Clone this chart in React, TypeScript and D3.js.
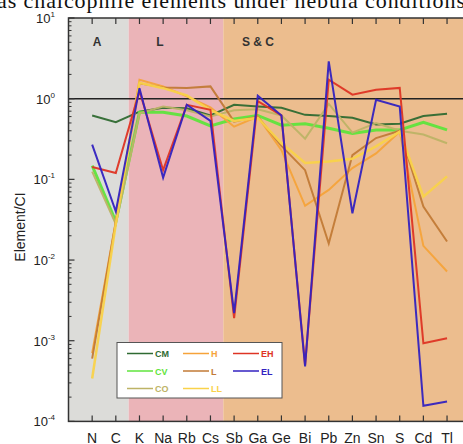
import React, { useEffect, useRef } from "react";
import * as d3 from "d3";

const elements = ["N", "C", "K", "Na", "Rb", "Cs", "Sb", "Ga", "Ge", "Bi", "Pb", "Zn", "Sn", "S", "Cd", "Tl"];

// Element/CI ratios
const CM = [0.62, 0.51, 0.69, 0.77, 0.76, 0.62, 0.84, 0.8, 0.77, 0.63, 0.61, 0.58, 0.48, 0.49, 0.61, 0.65];
const CV = [0.148, 0.03, 0.68, 0.68, 0.61, 0.46, 0.56, 0.62, 0.47, 0.49, 0.43, 0.37, 0.41, 0.41, 0.51, 0.41];
const CO = [0.125, 0.028, 0.66, 0.8, 0.72, 0.6, 0.72, 0.74, 0.62, 0.32, 0.86, 0.38, 0.5, 0.4, 0.36, 0.28];
const H = [0.0007, 0.03, 1.72, 1.42, 1.07, 0.78, 0.45, 0.6, 0.23, 0.047, 0.074, 0.138, 0.21, 0.39, 0.015, 0.0072];
const L = [0.0006, 0.03, 1.55, 1.38, 1.36, 1.42, 0.52, 0.6, 0.26, 0.13, 0.016, 0.2, 0.325, 0.4, 0.046, 0.017];
const LL = [0.00034, 0.028, 1.57, 1.35, 1.1, 0.72, 0.53, 0.58, 0.28, 0.16, 0.167, 0.18, 0.256, 0.39, 0.061, 0.109];
const EH = [0.142, 0.12, 1.25, 0.13, 0.84, 0.73, 0.0019, 0.93, 0.62, 0.0005, 1.72, 1.12, 1.29, 1.36, 0.00093, 0.00107];
const EL = [0.27, 0.04, 1.35, 0.105, 0.84, 0.53, 0.0022, 1.09, 0.62, 0.00048, 2.9, 0.038, 0.97, 0.8, 0.000156, 0.000176];

const seriesNames = ["CM", "CV", "CO", "H", "L", "LL", "EH", "EL"];
const seriesValues = [CM, CV, CO, H, L, LL, EH, EL];
const seriesColors = ["#2f6a32", "#5fe43c", "#bdb366", "#f6a33a", "#c27a36", "#f9d24a", "#de3424", "#3322c0"];
const seriesWidths = [2, 3, 2, 2, 2, 2.5, 2, 2];

// legend columns
const legendColumns = [["CM", "CV", "CO"], ["H", "L", "LL"], ["EH", "EL"]];

const regions = [
  { label: "A", from: "N", to: "C", color: "#dcdcd9" },
  { label: "L", from: "K", to: "Cs", color: "#ebb4b8" },
  { label: "S & C", from: "Sb", to: "Tl", color: "#ecbd8e" },
];

const yTicks = [1e-4, 1e-3, 1e-2, 1e-1, 1, 10];

export default function App() {
  const svgRef = useRef(null);
  const width = 463;
  const height = 444;
  const plot = { left: 68.5, right: 470.7, top: 18, bottom: 421.4 };

  useEffect(() => {
    const svg = d3.select(svgRef.current);
    svg.selectAll("*").remove();

    const x = d3.scalePoint().domain(elements).range([plot.left, plot.right]).padding(1);
    const y = d3.scaleLog().domain([1e-4, 10]).range([plot.bottom, plot.top]);
    const step = x.step();

    // title fragment (cut at the top)
    svg
      .append("text")
      .attr("x", -3)
      .attr("y", 8)
      .attr("font-family", "Liberation Serif, Times New Roman, serif")
      .attr("font-size", 22)
      .attr("textLength", 468)
      .attr("fill", "#111")
      .text("as chalcophile elements under nebula conditions");

    // background bands
    const g = svg.append("g");
    regions.forEach((r, i) => {
      const x0 = i === 0 ? plot.left : x(r.from) - step / 2 + 1;
      const x1 = i === regions.length - 1 ? plot.right : x(r.to) + step / 2 + 1;
      g.append("rect")
        .attr("x", x0)
        .attr("y", plot.top)
        .attr("width", x1 - x0)
        .attr("height", plot.bottom - plot.top)
        .attr("fill", r.color);
    });

    // region labels
    const labelX = [97, 160, 258];
    regions.forEach((r, i) => {
      g.append("text")
        .attr("x", labelX[i])
        .attr("y", 46)
        .attr("text-anchor", "middle")
        .attr("font-family", "Liberation Sans, Arial, sans-serif")
        .attr("font-weight", "bold")
        .attr("font-size", 12)
        .attr("fill", "#333")
        .text(r.label);
    });

    // reference line at 1
    g.append("line")
      .attr("x1", plot.left)
      .attr("x2", plot.right)
      .attr("y1", y(1))
      .attr("y2", y(1))
      .attr("stroke", "#222")
      .attr("stroke-width", 1.5);

    // series
    const line = d3
      .line<number>()
      .x((_, i) => x(elements[i]))
      .y((d) => y(d));

    seriesValues.forEach((vals, i) => {
      g.append("path")
        .attr("d", line(vals))
        .attr("fill", "none")
        .attr("stroke", seriesColors[i])
        .attr("stroke-width", seriesWidths[i])
        .attr("stroke-linejoin", "miter")
        .attr("opacity", 0.95);
    });

    // frame
    g.append("rect")
      .attr("x", plot.left)
      .attr("y", plot.top)
      .attr("width", plot.right - plot.left)
      .attr("height", plot.bottom - plot.top)
      .attr("fill", "none")
      .attr("stroke", "#333")
      .attr("stroke-width", 1.5);

    // x ticks top and bottom, pointing inward
    elements.forEach((e) => {
      g.append("line")
        .attr("x1", x(e)).attr("x2", x(e))
        .attr("y1", plot.top).attr("y2", plot.top + 6)
        .attr("stroke", "#333").attr("stroke-width", 1.2);
      g.append("line")
        .attr("x1", x(e)).attr("x2", x(e))
        .attr("y1", plot.bottom).attr("y2", plot.bottom - 6)
        .attr("stroke", "#333").attr("stroke-width", 1.2);
      svg
        .append("text")
        .attr("x", x(e))
        .attr("y", 443)
        .attr("text-anchor", "middle")
        .attr("font-family", "Liberation Sans, Arial, sans-serif")
        .attr("font-size", 14)
        .attr("fill", "#222")
        .text(e);
    });

    // y ticks, major and minor
    const minor = y.ticks().filter((t) => !yTicks.includes(t));
    minor.forEach((t) => {
      g.append("line")
        .attr("x1", plot.left).attr("x2", plot.left + 3)
        .attr("y1", y(t)).attr("y2", y(t))
        .attr("stroke", "#333").attr("stroke-width", 1);
    });
    yTicks.forEach((t) => {
      g.append("line")
        .attr("x1", plot.left).attr("x2", plot.left + 6)
        .attr("y1", y(t)).attr("y2", y(t))
        .attr("stroke", "#333").attr("stroke-width", 1.2);
      const lab = svg
        .append("text")
        .attr("x", 55)
        .attr("y", y(t) + 5)
        .attr("text-anchor", "end")
        .attr("font-family", "Liberation Sans, Arial, sans-serif")
        .attr("font-size", 13)
        .attr("fill", "#222");
      lab.append("tspan").text("10");
      lab
        .append("tspan")
        .attr("dy", -6)
        .attr("font-size", 8)
        .text(String(Math.round(Math.log10(t))));
    });

    // y axis title
    svg
      .append("text")
      .attr("transform", `translate(25, 227) rotate(-90)`)
      .attr("text-anchor", "middle")
      .attr("font-family", "Liberation Sans, Arial, sans-serif")
      .attr("font-size", 14)
      .attr("fill", "#222")
      .text("Element/CI");

    // legend
    const lg = svg.append("g");
    lg.append("rect")
      .attr("x", 117)
      .attr("y", 342.5)
      .attr("width", 165)
      .attr("height", 55.5)
      .attr("fill", "#fff")
      .attr("stroke", "#555")
      .attr("stroke-width", 1);
    const colX = [127, 183, 233];
    const rowY = [353.5, 371, 388.5];
    legendColumns.forEach((col, ci) => {
      col.forEach((name, ri) => {
        const idx = seriesNames.indexOf(name);
        lg.append("line")
          .attr("x1", colX[ci])
          .attr("x2", colX[ci] + 26)
          .attr("y1", rowY[ri])
          .attr("y2", rowY[ri])
          .attr("stroke", seriesColors[idx])
          .attr("stroke-width", 1.5);
        lg.append("text")
          .attr("x", colX[ci] + 28)
          .attr("y", rowY[ri] + 3.5)
          .attr("font-family", "Liberation Sans, Arial, sans-serif")
          .attr("font-weight", "bold")
          .attr("font-size", 9)
          .attr("fill", seriesColors[idx])
          .text(name);
      });
    });
  }, []);

  return (
    <div style={{ position: "absolute", left: 0, top: 0, width, height, overflow: "hidden", background: "#fff" }}>
      <svg ref={svgRef} width={width} height={height} style={{ display: "block" }}></svg>
    </div>
  );
}
